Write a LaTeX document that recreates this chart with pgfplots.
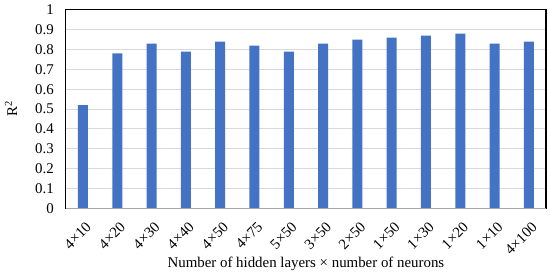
\documentclass[border=0pt]{standalone}
\usepackage{fontspec}
\setmainfont{Liberation Serif}
\usepackage{pgfplots}
\pgfplotsset{compat=1.18}
\definecolor{barblue}{HTML}{4472C4}
\definecolor{gridgray}{HTML}{D9D9D9}
\begin{document}
\fontsize{15}{17}\selectfont
\begin{tikzpicture}
\begin{axis}[
    scale only axis,
    width=482bp, height=199bp,
    ymin=0, ymax=1,
    ytick={0,0.1,...,1},
    xmin=-0.5, xmax=13.5,
    xtick=data,
    xticklabels={4×10,4×20,4×30,4×40,4×50,4×75,5×50,3×50,2×50,1×50,1×30,1×20,1×10,4×100},
    x tick label style={xshift=2pt, yshift=-13pt, rotate=45, anchor=north east, inner sep=0pt},
    major tick length=0pt,
    ymajorgrids,
    grid style={gridgray, line width=0.8pt},
    axis line style={black, line width=1.2pt},
    /pgf/number format/assume math mode=true,
    tick label style={font=\fontsize{15}{17}\selectfont},
    yticklabel style={/pgf/number format/fixed, xshift=-7pt},
    xlabel={Number of hidden layers × number of neurons},
    ylabel={R\textsuperscript{2}},
    label style={font=\fontsize{15}{17}\selectfont},
    xlabel style={yshift=4pt},
    ylabel style={yshift=8pt},
    clip=false,
]
\addplot[ybar, bar width=10bp, fill=barblue, draw=none] coordinates {
    (0,0.52) (1,0.78) (2,0.83) (3,0.79) (4,0.84) (5,0.82) (6,0.79)
    (7,0.83) (8,0.85) (9,0.86) (10,0.87) (11,0.88) (12,0.83) (13,0.84)
};
\draw[gray!70, line width=1.2pt] (axis cs:-0.5,0) -- (axis cs:13.5,0);
\end{axis}
\path (current axis.south west) ++(-64bp,-63bp) rectangle ++(550bp,271bp);
\end{tikzpicture}
\end{document}
